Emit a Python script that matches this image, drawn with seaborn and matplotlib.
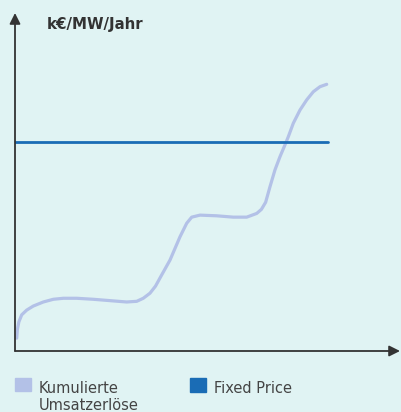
import matplotlib
matplotlib.use("Agg")
import matplotlib.pyplot as plt
import matplotlib.patches as mpatches
from matplotlib.legend_handler import HandlerPatch
import seaborn as sns
import pandas as pd

# cumulated revenue curve (x: time, y: k€/MW/Jahr, arbitrary scale 0..100)
time = [0.44, 0.62, 1.0, 1.74, 3.04, 4.75, 7.35, 9.95, 12.55, 16.03, 20.34, 24.68,
        29.01, 31.61, 33.32, 35.06, 36.5, 38.0, 40.26, 42.86, 44.60, 45.90,
        48.05, 52.39, 56.70, 60.18, 62.78, 64.0, 65.1, 66.23, 67.53, 68.83,
        70.13, 70.99, 72.29, 74.03, 75.77, 77.48, 79.22, 80.96]
revenue = [3.8, 6.4, 8.6, 10.7, 12.1, 13.3, 14.5, 15.3, 15.6, 15.6, 15.3, 14.9,
           14.5, 14.7, 15.6, 17.1, 19.2, 22.3, 26.9, 33.8, 37.8, 39.6,
           40.2, 40.0, 39.6, 39.6, 40.7, 41.9, 44.0, 48.6, 53.6, 57.5,
           61.0, 63.4, 67.4, 71.3, 74.3, 76.7, 78.2, 78.9]
fixed_time = [0, 81.3]
fixed_price = [61.8, 61.8]

labels = ["Kumulierte\nUmsatzerlöse", "Fixed Price"]
ylabel = "k€/MW/Jahr"

bg = "#e0f3f3"
curve_color = "#b3c1e7"
fixed_color = "#1a6cb5"
axis_color = "#333333"

sns.set_style("white")
plt.rcParams["font.family"] = ["DejaVu Sans"]

fig = plt.figure(figsize=(4.01, 4.12), dpi=100, facecolor=bg)
ax = fig.add_axes([15 / 401, 61 / 412, 385 / 401, 338 / 412])
ax.set_facecolor(bg)

df_rev = pd.DataFrame({"t": time, "v": revenue})
df_fix = pd.DataFrame({"t": fixed_time, "v": fixed_price})
sns.lineplot(data=df_rev, x="t", y="v", ax=ax, color=curve_color, lw=2.3,
             solid_capstyle="round", solid_joinstyle="round", sort=False)
sns.lineplot(data=df_fix, x="t", y="v", ax=ax, color=fixed_color, lw=2.0)

ax.set_xlim(0, 100)
ax.set_ylim(0, 100)
ax.set_xticks([])
ax.set_yticks([])
ax.set_xlabel("")
ax.set_ylabel("")
for s in ax.spines.values():
    s.set_visible(False)

arrow = dict(arrowstyle="-|>", mutation_scale=16, lw=1.3, color=axis_color,
             shrinkA=0, shrinkB=0)
ax.annotate("", xy=(1, 0), xytext=(0, 0), xycoords="axes fraction", arrowprops=arrow)
ax.annotate("", xy=(0, 1), xytext=(0, 0), xycoords="axes fraction", arrowprops=arrow)

fig.text(47 / 401, 1 - 24 / 412, ylabel, fontsize=10.8, fontweight="bold",
         color=axis_color, va="center", ha="left")


def shifted_patch(shift):
    def make(legend, orig_handle, xdescent, ydescent, width, height, fontsize):
        return mpatches.Rectangle((-xdescent, -ydescent + shift * fontsize), width, height)
    return HandlerPatch(patch_func=make)


leg_kw = dict(loc="upper left", frameon=False, fontsize=10.5, labelcolor="#444444",
              handlelength=1.1, handleheight=1.05, handletextpad=0.55,
              borderaxespad=0, borderpad=0, labelspacing=0.2)

h1 = mpatches.Patch(color=curve_color, label=labels[0])
h2 = mpatches.Patch(color=fixed_color, label=labels[1])
fig.legend(handles=[h1], bbox_to_anchor=(15 / 401, 1 - 381 / 412),
           handler_map={h1: shifted_patch(0.94)}, **leg_kw)
fig.legend(handles=[h2], bbox_to_anchor=(190 / 401, 1 - 381 / 412),
           handler_map={h2: shifted_patch(0.2)}, **leg_kw)

fig.savefig("out.png", dpi=100, facecolor=bg)
